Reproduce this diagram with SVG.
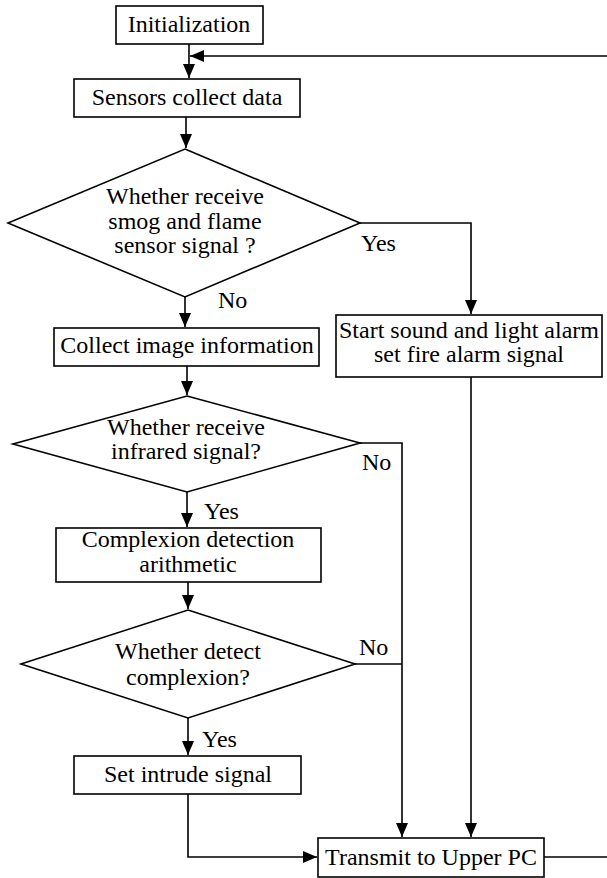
<svg xmlns="http://www.w3.org/2000/svg" width="607" height="878" viewBox="0 0 607 878">
<style>
.box{fill:#fff;stroke:#000;stroke-width:1.6}
.ln{fill:none;stroke:#000;stroke-width:1.6}
.t{font-family:"Liberation Serif","Times New Roman",serif;font-size:24px;fill:#000}
.c{text-anchor:middle}
</style>
<defs>
<marker id="ah" markerUnits="userSpaceOnUse" markerWidth="15" markerHeight="13" refX="14" refY="6" orient="auto">
<path d="M0,0 L14,6 L0,12 z" fill="#000"/>
</marker>
</defs>
<rect width="607" height="878" fill="#fff"/>
<g id="connectors">
<line class="ln" x1="189" y1="44" x2="189" y2="78" marker-end="url(#ah)"/>
<line class="ln" x1="607" y1="56" x2="190" y2="56" marker-end="url(#ah)"/>
<line class="ln" x1="186" y1="117" x2="186" y2="148" marker-end="url(#ah)"/>
<polyline class="ln" points="360,223 471,223 471,314" marker-end="url(#ah)"/>
<line class="ln" x1="185" y1="297" x2="185" y2="327" marker-end="url(#ah)"/>
<line class="ln" x1="187" y1="366" x2="187" y2="395" marker-end="url(#ah)"/>
<polyline class="ln" points="360,443 402,443 402,837" marker-end="url(#ah)"/>
<line class="ln" x1="187" y1="492" x2="187" y2="527" marker-end="url(#ah)"/>
<line class="ln" x1="188" y1="582" x2="188" y2="609" marker-end="url(#ah)"/>
<line class="ln" x1="355" y1="664" x2="402" y2="664"/>
<line class="ln" x1="188" y1="718" x2="188" y2="755" marker-end="url(#ah)"/>
<line class="ln" x1="471" y1="377" x2="471" y2="837" marker-end="url(#ah)"/>
<polyline class="ln" points="188,794 188,857 317,857" marker-end="url(#ah)"/>
<line class="ln" x1="544" y1="857" x2="607" y2="857"/>
<text class="t" x="361" y="251">Yes</text>
<text class="t" x="218" y="308">No</text>
<text class="t" x="362" y="470">No</text>
<text class="t" x="204" y="519">Yes</text>
<text class="t" x="359" y="655">No</text>
<text class="t" x="202" y="747">Yes</text>
</g>
<g id="init">
<rect class="box" x="116" y="6" width="147" height="38"/>
<text class="t c" x="189" y="32">Initialization</text>
</g>
<g id="sensors">
<rect class="box" x="74" y="79" width="226" height="38"/>
<text class="t c" x="187" y="105">Sensors collect data</text>
</g>
<g id="d1">
<polygon class="box" points="185,149 360,223 185,297 8,223"/>
<text class="t c" x="185" y="204">Whether receive</text>
<text class="t c" x="185" y="229">smog and flame</text>
<text class="t c" x="185" y="253">sensor signal ?</text>
</g>
<g id="alarm">
<rect class="box" x="336" y="315" width="266" height="62"/>
<text class="t c" x="469" y="338">Start sound and light alarm</text>
<text class="t c" x="469" y="362">set fire alarm signal</text>
</g>
<g id="collect">
<rect class="box" x="54" y="328" width="265" height="38"/>
<text class="t c" x="187" y="353">Collect image information</text>
</g>
<g id="d2">
<polygon class="box" points="187,396 360,443 187,492 13,444"/>
<text class="t c" x="186" y="435">Whether receive</text>
<text class="t c" x="186" y="459">infrared signal?</text>
</g>
<g id="complexion">
<rect class="box" x="56" y="528" width="265" height="54"/>
<text class="t c" x="188" y="547">Complexion detection</text>
<text class="t c" x="188" y="572">arithmetic</text>
</g>
<g id="d3">
<polygon class="box" points="188,610 355,664 188,718 21,664"/>
<text class="t c" x="188" y="659">Whether detect</text>
<text class="t c" x="188" y="685">complexion?</text>
</g>
<g id="intrude">
<rect class="box" x="74" y="756" width="227" height="38"/>
<text class="t c" x="188" y="782">Set intrude signal</text>
</g>
<g id="transmit">
<rect class="box" x="318" y="838" width="226" height="39"/>
<text class="t c" x="431" y="865">Transmit to Upper PC</text>
</g>
</svg>
